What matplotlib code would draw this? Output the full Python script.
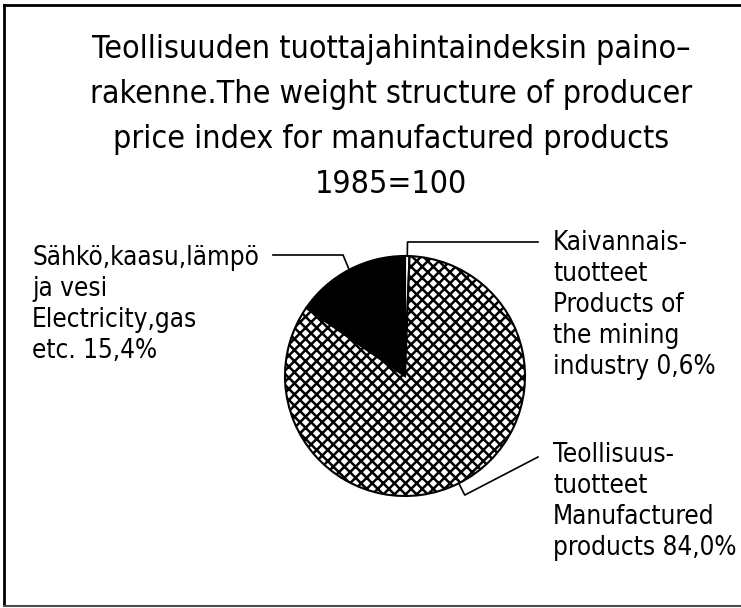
import numpy as np
import matplotlib
matplotlib.use("Agg")
import matplotlib.pyplot as plt
from matplotlib.lines import Line2D

# weight structure, 1985=100 (clockwise from 12 o'clock)
shares = [0.6, 84.0, 15.4]
names = [
    "Kaivannais-\ntuotteet\nProducts of\nthe mining\nindustry 0,6%",
    "Teollisuus-\ntuotteet\nManufactured\nproducts 84,0%",
    "Sähkö,kaasu,lämpö\nja vesi\nElectricity,gas\netc. 15,4%",
]
faces = ["white", "white", "black"]
hatches = [None, "xxx", None]
title = ("Teollisuuden tuottajahintaindeksin paino–\n"
         "rakenne.The weight structure of producer\n"
         "price index for manufactured products\n"
         "1985=100")

W, H = 741, 608
plt.rcParams["hatch.linewidth"] = 1.8
plt.rcParams["hatch.color"] = "black"
plt.rcParams["font.family"] = "DejaVu Sans"

fig = plt.figure(figsize=(W / 100, H / 100), dpi=100)
ax = fig.add_axes([0, 0, 1, 1])

cx, cy, r = 405, H - 376, 120
wedges, _ = ax.pie(shares, center=(cx, cy), radius=r, startangle=90,
                   counterclock=False, colors=faces,
                   wedgeprops=dict(edgecolor="black", linewidth=1.5))
for w, h in zip(wedges, hatches):
    if h:
        w.set_hatch(h)
# pie() resets the limits, so set pixel-like coords afterwards
ax.set_xlim(0, W)
ax.set_ylim(0, H)
ax.set_aspect("equal")
ax.set_axis_off()

# leader lines from the middle of each wedge
label_xy = [(553, H - 230), (553, H - 442), (32, H - 245)]
ends = [(538, H - 242), (538, H - 457), (273, H - 255)]
flat = [True, False, True]
for w, name, (tx, ty), (ex, ey), fl in zip(wedges, names, label_xy, ends, flat):
    mid = np.deg2rad((w.theta1 + w.theta2) / 2)
    x0, y0 = cx + r * np.cos(mid), cy + r * np.sin(mid)
    x1, y1 = cx + 1.11 * r * np.cos(mid), cy + 1.11 * r * np.sin(mid)
    if fl:
        y1 = ey
    ax.plot([x0, x1, ex], [y0, y1, ey], color="black", lw=1.2)
    ax.text(tx, ty, name, ha="left", va="top", fontsize=18.7,
            fontstretch="condensed", linespacing=1.25, color="black")

ax.text(391, H - 34, title, ha="center", va="top", fontsize=23,
        fontstretch="condensed", linespacing=1.58,
        multialignment="center", color="black")

# frame: left, top and bottom only
frame = dict(color="black", lw=2)
fig.add_artist(Line2D([4 / W, 4 / W], [3 / H, 1 - 5 / H], **frame))
fig.add_artist(Line2D([4 / W, 1], [1 - 5 / H, 1 - 5 / H], **frame))
fig.add_artist(Line2D([4 / W, 1], [2 / H, 2 / H], color="0.3", lw=1.5))

fig.savefig("out.png", dpi=100)
